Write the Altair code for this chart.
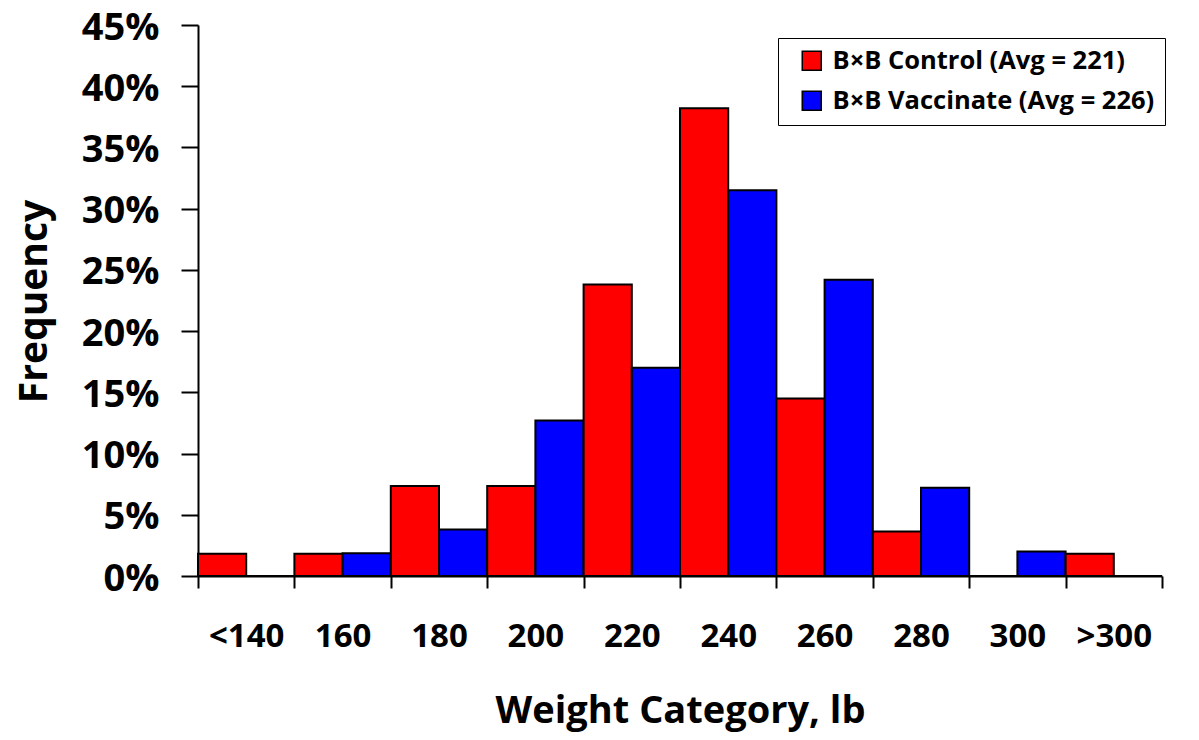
import altair as alt
import pandas as pd

categories = ["<140", "160", "180", "200", "220", "240", "260", "280", "300", ">300"]
control = [1.82, 1.82, 7.35, 7.35, 23.8, 38.2, 14.5, 3.64, 0.0, 1.82]
vaccinate = [0.0, 1.85, 3.8, 12.7, 17.0, 31.5, 24.2, 7.2, 2.0, 0.0]
series = ["B×B Control (Avg = 221)", "B×B Vaccinate (Avg = 226)"]
colors = ["#FF0000", "#0000FF"]
y_ticks = [0, 0.05, 0.10, 0.15, 0.20, 0.25, 0.30, 0.35, 0.40, 0.45]

rows = []
for c, a, b in zip(categories, control, vaccinate):
    rows.append({"cat": c, "series": series[0], "val": a / 100})
    rows.append({"cat": c, "series": series[1], "val": b / 100})
df = pd.DataFrame(rows)

FONT = "Open Sans"

chart = alt.Chart(df).mark_bar(stroke="black", strokeWidth=2).encode(
    x=alt.X(
        "cat:N",
        sort=categories,
        scale=alt.Scale(paddingInner=0, paddingOuter=0),
        axis=alt.Axis(
            title="Weight Category, lb",
            labelAngle=0,
            tickBand="extent",
            tickSize=12,
            tickWidth=2,
            tickColor="black",
            domainColor="black",
            domainWidth=2,
            labelFont=FONT,
            labelFontSize=33,
            labelFontWeight="bold",
            labelColor="black",
            labelPadding=32,
            titleFont=FONT,
            titleFontSize=38,
            titleFontWeight="bold",
            titleColor="black",
            titleBaseline="alphabetic",
            titleY=146,
            grid=False,
        ),
    ),
    xOffset=alt.XOffset("series:N", sort=series, scale=alt.Scale(paddingInner=0, paddingOuter=0)),
    y=alt.Y(
        "val:Q",
        scale=alt.Scale(domain=[0, 0.45], nice=False),
        axis=alt.Axis(
            title="Frequency",
            values=y_ticks,
            format=".0%",
            tickSize=17,
            tickWidth=2,
            tickColor="black",
            domainColor="black",
            domainWidth=2,
            labelFont=FONT,
            labelFontSize=38,
            labelFontWeight="bold",
            labelColor="black",
            labelPadding=22,
            labelOffset=3,
            titleFont=FONT,
            titleFontSize=39,
            titleFontWeight="bold",
            titleColor="black",
            titleAngle=270,
            titleBaseline="middle",
            titleAlign="center",
            titleX=-164,
            titleY=276,
            grid=False,
        ),
    ),
    color=alt.Color(
        "series:N",
        sort=series,
        scale=alt.Scale(domain=series, range=colors),
        legend=alt.Legend(
            title=None,
            orient="none",
            legendX=580,
            legendY=13,
            strokeColor="black",
            fillColor="white",
            padding=10,
            symbolType="square",
            symbolSize=361,
            symbolStrokeColor="black",
            symbolStrokeWidth=1.5,
            symbolOpacity=1,
            symbolOffset=11,
            labelFont=FONT,
            labelFontSize=25.5,
            labelFontWeight="bold",
            labelColor="black",
            labelOffset=8,
            rowPadding=13,
            labelLimit=400,
        ),
    ),
).properties(
    width=964,
    height=551,
    autosize=alt.AutoSizeParams(type="none"),
    padding={"left": 190, "top": 17, "right": 20, "bottom": 156},
).configure_view(stroke=None)

chart.save("out.html", embed_options={"renderer": "svg", "actions": False})
